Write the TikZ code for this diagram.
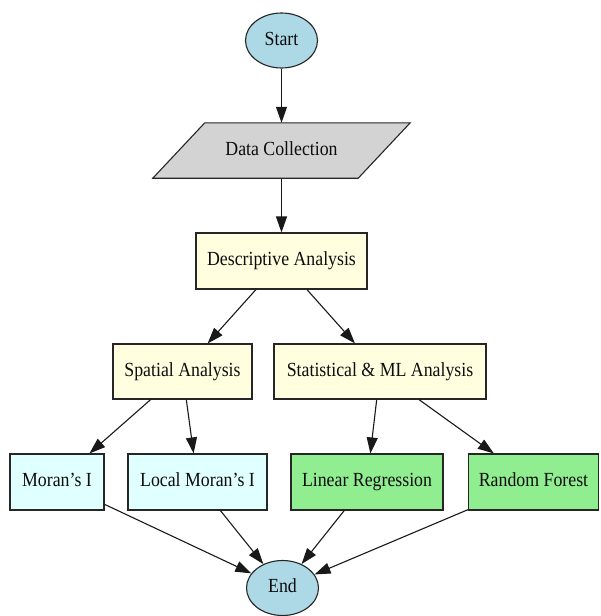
\documentclass[tikz,border=0pt]{standalone}
\usepackage{fontspec}
\setmainfont{Liberation Serif}[FakeStretch=0.89]
\usetikzlibrary{arrows.meta,shapes.geometric}
\definecolor{lblue}{HTML}{ADD8E6}
\definecolor{lgray}{HTML}{D3D3D3}
\definecolor{lyellow}{HTML}{FFFFE0}
\definecolor{lcyan}{HTML}{E0FFFF}
\definecolor{lgreen}{HTML}{90EE90}
\begin{document}
\begin{tikzpicture}[x=1pt,y=-1pt,
  font=\fontsize{20}{23}\selectfont,
  txt/.style={text=black!95, inner sep=0pt, text height=0.9em, text depth=0pt},
  base/.style={txt, line width=1.1pt, draw=black!85},
  term/.style={base, ellipse, fill=lblue, minimum width=72pt, minimum height=55pt},
  boxnode/.style={base, rectangle, minimum height=56pt},
  ybox/.style={boxnode, fill=lyellow},
  cbox/.style={boxnode, fill=lcyan},
  gbox/.style={boxnode, fill=lgreen},
  conn/.style={line width=1.1pt, draw=black!90, -{Triangle[length=16pt,width=11pt]}}
]
\useasboundingbox (0,0) rectangle (600,616);

\node[term] (start) at (281.5,40.5) {Start};
\node[inner sep=0pt, minimum width=205pt, minimum height=55pt] (data) at (281.5,150.5) {};
\fill[lgray, draw=black!85, line width=1.1pt]
  ([xshift=26pt]data.north west) -- ([xshift=26pt]data.north east)
  -- ([xshift=-26pt]data.south east) -- ([xshift=-26pt]data.south west) -- cycle;
\node[txt] (datatext) at (data.center) {Data Collection};

\node[ybox, minimum width=171pt] (desc) at (281.5,261) {Descriptive Analysis};
\node[ybox, minimum width=139pt, minimum height=55pt] (spatial) at (182.5,371.5) {Spatial Analysis};
\node[ybox, minimum width=212pt, minimum height=55pt] (stat) at (380,371.5) {Statistical \& ML Analysis};

\node[cbox, minimum width=94pt] (moran) at (57,482) {Moran’s I};
\node[cbox, minimum width=139pt] (local) at (197.5,482) {Local Moran’s I};
\node[gbox, minimum width=152pt] (linear) at (367,482) {Linear Regression};
\node[gbox, minimum width=130pt] (rf) at (533.5,482) {Random Forest};

\node[term] (finish) at (282.5,588) {End};

\draw[conn] (start) -- (data.north);
\draw[conn] (data.south) -- (desc);
\draw[conn] (desc) -- (spatial);
\draw[conn] (desc) -- (stat);
\draw[conn] (spatial) -- (moran);
\draw[conn] (spatial) -- (local);
\draw[conn] (stat) -- (linear);
\draw[conn] (stat) -- (rf);
\draw[conn] (moran) -- (finish);
\draw[conn] (local) -- (finish);
\draw[conn] (linear) -- (finish);
\draw[conn] (rf) -- (finish);
\end{tikzpicture}
\end{document}
